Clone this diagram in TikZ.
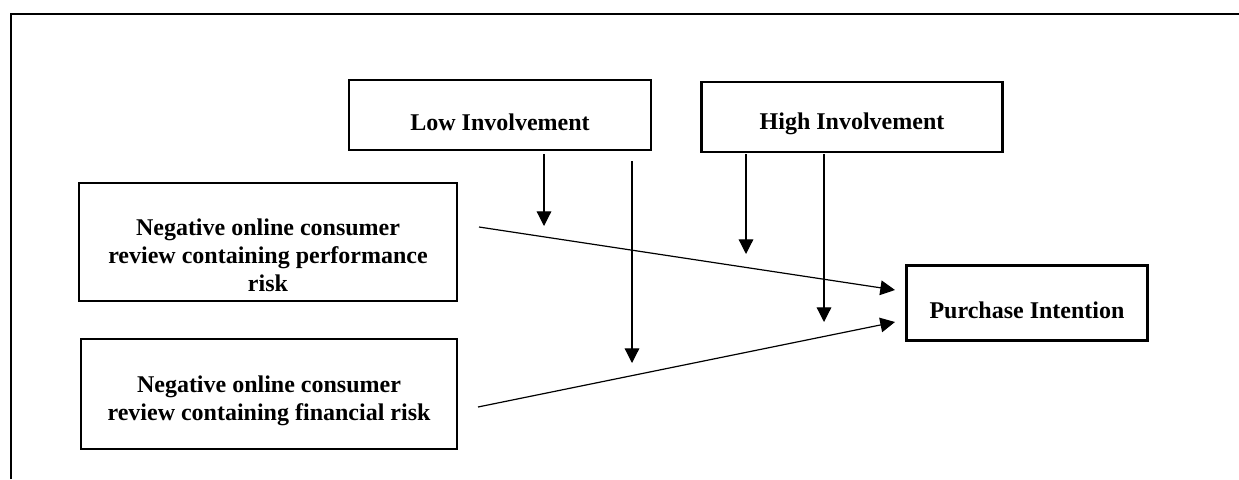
\documentclass[tikz,border=0pt]{standalone}
\usepackage{fontspec}
\setmainfont{Liberation Serif}
\usetikzlibrary{arrows.meta}

% strut that pushes the text a bit below the middle of its box
\newcommand{\lift}[1]{\rule{0pt}{#1}}

\tikzset{
  box/.style={draw, line width=1.8pt, align=center, inner sep=0pt,
    font=\bfseries\fontsize{18}{21}\selectfont},
  arr/.style={line width=0.9pt, -{Triangle[length=11pt, width=11pt]}},
}

\begin{document}
\begin{tikzpicture}[x=0.75pt, y=-0.75pt]
        \useasboundingbox (0,0) rectangle (1239,479);
        % outer frame (only top and left visible)
        \draw[line width=1.8pt] (11,479) -- (11,14) -- (1239,14);

        \node[box, minimum width=302*0.75pt, minimum height=70*0.75pt] (low) at (500,115) {\lift{23pt}Low Involvement};
        \node[box, minimum width=301*0.75pt, minimum height=70*0.75pt] (high) at (852,117) {\lift{23pt}High Involvement};
        \node[box, minimum width=378*0.75pt, minimum height=118*0.75pt] (perf) at (268,242)
            {\lift{32pt}Negative online consumer\\ review containing performance\\ risk};
        \node[box, minimum width=376*0.75pt, minimum height=110*0.75pt] (fin) at (269,394)
            {\lift{23pt}Negative online consumer\\ review containing financial risk};
        \node[box, minimum width=241*0.75pt, minimum height=75*0.75pt] (pi) at (1027,303) {\lift{23pt}Purchase Intention};

        % free ends of the connectors
        \coordinate (ps) at (479,227);
        \coordinate (fs) at (478,407);
        \coordinate (pe) at (895,290);
        \coordinate (fe) at (895,322);
        \coordinate (l1) at (544,226);
        \coordinate (l2) at (632,363);
        \coordinate (h1) at (746,254);
        \coordinate (h2) at (824,322);

        \draw[arr] (ps) to (pe);
        \draw[arr] (fs) to (fe);
        \draw[arr] (low.south -| l1) ++(0,3) to (l1);
        \draw[arr] (low.south -| l2) ++(0,10) to (l2);
        \draw[arr] (high.south -| h1) ++(0,1) to (h1);
        \draw[arr] (high.south -| h2) ++(0,1) to (h2);
    \end{tikzpicture}
\end{document}
